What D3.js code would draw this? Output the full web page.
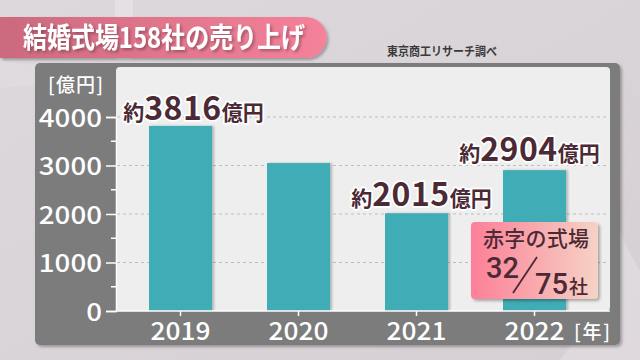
<!DOCTYPE html>
<html><head><meta charset="utf-8">
<script src="https://cdn.jsdelivr.net/npm/d3@7"></script>
<style>
html,body{margin:0;padding:0;background:#d8d2d7;}
svg{display:block;font-family:"Noto Sans CJK JP","Noto Sans",sans-serif;}
</style></head>
<body>
<svg id="c" width="640" height="360"></svg>
<script>
const years = ["2019","2020","2021","2022"];
const sales = [3816, 3050, 2015, 2904];
const labelNums = ["3816", "", "2015", "2904"];
const yTicks = [0, 1000, 2000, 3000, 4000];
const yMinorTicks = [500, 1500, 2500, 3500];
const title = "結婚式場158社の売り上げ";
const source = "東京商工リサーチ調べ";
const yUnit = "[億円]";
const xUnit = "[年]";
const boxTitle = "赤字の式場";
const boxNum = "32";
const boxDen = "75";
const boxUnit = "社";

const svg = d3.select("#c");
const defs = svg.append("defs");

// background
const bg = defs.append("linearGradient").attr("id","bg").attr("x1",0).attr("y1",0).attr("x2",1).attr("y2",1);
bg.append("stop").attr("offset","0%").attr("stop-color","#ddd8dc");
bg.append("stop").attr("offset","100%").attr("stop-color","#d6d0d5");
svg.append("rect").attr("width",640).attr("height",360).attr("fill","url(#bg)");
svg.append("rect").attr("x",115).attr("y",0).attr("width",18).attr("height",60).attr("fill","#e6e2e5").attr("opacity",0.8);
svg.append("path").attr("d","M0,60 Q60,72 140,66 L140,90 Q60,80 0,88 Z").attr("fill","#e2dde1").attr("opacity",0.6);
svg.append("path").attr("d","M600,180 Q625,250 640,270 L640,360 L560,360 Q610,300 600,180 Z").attr("fill","#e4dfe3").attr("opacity",0.6);

const shadow = defs.append("filter").attr("id","sh").attr("x","-10%").attr("y","-10%").attr("width","130%").attr("height","130%");
shadow.append("feDropShadow").attr("dx",2).attr("dy",2).attr("stdDeviation",1.5).attr("flood-color","#000").attr("flood-opacity",0.3);

// title banner
const tg = defs.append("linearGradient").attr("id","tg");
tg.append("stop").attr("offset","0%").attr("stop-color","#cc6a7f");
tg.append("stop").attr("offset","100%").attr("stop-color","#f5819a");
svg.append("path").attr("d","M0,17 L306,17 A20.5,20.5 0 0 1 306,58 L0,58 Z")
  .attr("fill","url(#tg)").attr("filter","url(#sh)");
svg.append("text").attr("x",23).attr("y",48).attr("fill","#fff")
  .attr("font-size",28).attr("font-weight",700).attr("filter","url(#sh)")
  .attr("textLength",282).attr("lengthAdjust","spacingAndGlyphs").text(title);
svg.append("text").attr("x",387).attr("y",56).attr("fill","#3a3a3a")
  .attr("font-size",12).attr("font-weight",700).attr("textLength",110).attr("lengthAdjust","spacingAndGlyphs").text(source);

// panel
svg.append("rect").attr("x",35).attr("y",63).attr("width",585).attr("height",282).attr("rx",5)
  .attr("fill","#7b7b7b").attr("filter","url(#sh)");
svg.append("rect").attr("x",116).attr("y",67).attr("width",494).attr("height",244).attr("rx",4)
  .attr("fill","#edeeed");

const y = d3.scaleLinear().domain([0,4000]).range([311,117]);
const x = d3.scaleBand().domain(years).range([121.5,593.5]).paddingInner(0.466).paddingOuter(0.233);

// gridlines
svg.append("g").selectAll("line").data(yTicks.filter(d=>d>0)).join("line")
  .attr("x1",117).attr("x2",609).attr("y1",d=>y(d)).attr("y2",d=>y(d))
  .attr("stroke","#bdbdbd").attr("stroke-width",1).attr("stroke-dasharray","3,3");

// y axis
const yAxis = svg.append("g").attr("transform","translate(116,0)")
  .call(d3.axisLeft(y).tickValues(yTicks).tickSize(10).tickFormat(d3.format("d")));
yAxis.select(".domain").attr("stroke","#fff").attr("stroke-width",1.5);
yAxis.selectAll(".tick line").attr("stroke","#fff").attr("stroke-width",1.5);
yAxis.selectAll(".tick text").attr("fill","#fff").attr("font-size",25).attr("font-weight",500)
  .attr("font-family","\"Noto Sans CJK JP\",sans-serif").attr("x",-14).attr("dy","0.36em")
  .attr("textLength",d=>String(d).length*15.8).attr("lengthAdjust","spacingAndGlyphs");
svg.append("g").selectAll("line").data(yMinorTicks).join("line")
  .attr("x1",111).attr("x2",116).attr("y1",d=>y(d)).attr("y2",d=>y(d))
  .attr("stroke","#fff").attr("stroke-width",1.5);
svg.append("text").attr("x",103).attr("y",92).attr("text-anchor","end").attr("fill","#fff")
  .attr("font-size",19).attr("font-weight",500).attr("textLength",55).text(yUnit);

// bars
const bsh = defs.append("filter").attr("id","bsh").attr("x","-10%").attr("y","-10%").attr("width","130%").attr("height","120%");
bsh.append("feDropShadow").attr("dx",2).attr("dy",0).attr("stdDeviation",1).attr("flood-color","#000").attr("flood-opacity",0.25);
svg.append("g").selectAll("rect").data(years).join("rect")
  .attr("x",d=>x(d)).attr("width",x.bandwidth())
  .attr("y",(d,i)=>y(sales[i])).attr("height",(d,i)=>y(0)-y(sales[i]))
  .attr("fill","#41adb6").attr("filter","url(#bsh)");

// x axis
const xAxis = svg.append("g").attr("transform","translate(0,311)")
  .call(d3.axisBottom(x).tickSize(5).tickSizeOuter(0));
xAxis.select(".domain").attr("d","M116,0H610").attr("stroke","#fff").attr("stroke-width",1.5);
xAxis.selectAll(".tick line").attr("stroke","#fff").attr("stroke-width",1.5);
xAxis.selectAll(".tick text").attr("fill","#fff").attr("font-size",25).attr("font-weight",500)
  .attr("font-family","\"Noto Sans CJK JP\",sans-serif").attr("y",11).attr("dy","0.71em")
  .attr("textLength",60).attr("lengthAdjust","spacingAndGlyphs");
svg.append("text").attr("x",610).attr("y",339).attr("text-anchor","end").attr("fill","#fff")
  .attr("font-size",19).attr("font-weight",500).attr("textLength",36).text(xUnit);

// value labels
const dxs = [13, 0, 5, -5];
const dys = [-6, 0, -7, -9];
const lab = svg.append("g");
years.forEach((yr,i)=>{
  if(!labelNums[i]) return;
  const t = lab.append("text").attr("x",x(yr)+x.bandwidth()/2+dxs[i]).attr("y",y(sales[i])+dys[i])
    .attr("text-anchor","middle").attr("fill","#4b2a35").attr("font-weight",700)
    .attr("stroke","#fff").attr("stroke-width",3.5).attr("stroke-linejoin","round").attr("paint-order","stroke");
  t.append("tspan").attr("font-size",21).text("約");
  t.append("tspan").attr("font-size",32).attr("letter-spacing",0.5).text(labelNums[i]);
  t.append("tspan").attr("font-size",21).text("億円");
});

// inset box
const ig = defs.append("linearGradient").attr("id","ig");
ig.append("stop").attr("offset","0%").attr("stop-color","#fc7f97");
ig.append("stop").attr("offset","100%").attr("stop-color","#f6d2c5");
svg.append("rect").attr("x",471).attr("y",222).attr("width",127).attr("height",77).attr("rx",4)
  .attr("fill","url(#ig)").attr("filter","url(#sh)");
svg.append("text").attr("x",483).attr("y",246).attr("fill","#4b2a35").attr("font-size",21).attr("font-weight",500)
  .attr("textLength",106).text(boxTitle);
svg.append("text").attr("x",486).attr("y",278).attr("fill","#4b2a35").attr("font-size",29)
  .attr("font-family","Roboto,sans-serif").attr("font-weight",500).text(boxNum);
svg.append("line").attr("x1",513).attr("y1",293).attr("x2",537).attr("y2",257).attr("stroke","#4b2a35").attr("stroke-width",1.8);
const dt = svg.append("text").attr("x",535).attr("y",294).attr("fill","#4b2a35").attr("font-weight",500);
dt.append("tspan").attr("font-size",29).attr("font-family","Roboto,sans-serif").text(boxDen);
dt.append("tspan").attr("font-size",19).attr("dx",1).text(boxUnit);
</script>
</body></html>
